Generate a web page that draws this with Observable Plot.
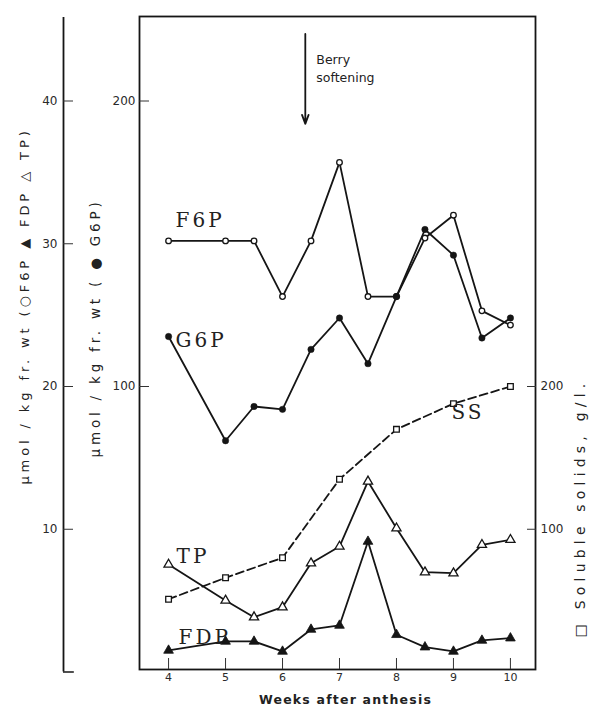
<!DOCTYPE html>
<html><head><meta charset="utf-8">
<script src="https://cdn.jsdelivr.net/npm/d3@7"></script>
<script src="https://cdn.jsdelivr.net/npm/@observablehq/plot@0.6"></script>
<style>
body{margin:0;background:#fff}
#chart{width:591px;height:710px;overflow:hidden}
</style>
</head><body><div id="chart"></div>
<script>
// ---- data ----
const weeks = [4, 5, 5.5, 6, 6.5, 7, 7.5, 8, 8.5, 9, 9.5, 10];
const f6p = [30.2, 30.2, 30.2, 26.3, 30.2, 35.7, 26.3, 26.3, 30.4, 32.0, 25.3, 24.3];   // µmol/kg (outer left axis)
const g6p = [117.5, 81, 93, 92, 113, 124, 108, 131.5, 155, 146, 117, 124];             // µmol/kg (inner left axis)
const tp  = [7.53, 5.01, 3.84, 4.54, 7.62, 8.79, 13.35, 10.07, 6.99, 6.92, 8.91, 9.26]; // µmol/kg (outer left axis)
const fdp = [1.51, 2.14, 2.14, 1.44, 2.98, 3.26, 9.14, 2.61, 1.74, 1.44, 2.21, 2.37];  // µmol/kg (outer left axis)
const ssWeeks = [4, 5, 6, 7, 8, 9, 10];
const ss = [51, 66, 80, 135, 170, 188, 200];                                           // g/L (right axis)
const xTicks = [4, 5, 6, 7, 8, 9, 10];
const outerTicks = [10, 20, 30, 40];
const g6pTicks = [100, 200];
const ssTicks = [100, 200];
const softeningWeek = 6.4;
const softeningSpan = [44.7, 38.4];

// ---- scales: all three vertical axes share one pixel mapping ----
const G6P_PER_UNIT = 5;   // 200 on inner axis = 40 on outer axis
const SS_PER_UNIT = 10;   // 200 g/L on right axis = 20 on outer axis
const X_DOMAIN = [3.49, 10.44];
const Y_DOMAIN = [0.175, 45.92];
const OUTER_DX = -76;
const ink = "#151515";

const series = (xs, ys, k = 1) => xs.map((x, i) => ({x, y: ys[i] / k}));
const F = series(weeks, f6p), G = series(weeks, g6p, G6P_PER_UNIT);
const T = series(weeks, tp), D = series(weeks, fdp), S = series(ssWeeks, ss, SS_PER_UNIT);

const labels = [
  {...F[0], text: "F6P", dx: 7, dy: -20},
  {...G[0], text: "G6P", dx: 7, dy: 4},
  {...T[0], text: "TP", dx: 8, dy: -8},
  {...D[0], text: "FDP", dx: 10, dy: -13},
  {...S[5], text: "SS", dx: -2, dy: 9}
];

const lineOpts = {x: "x", y: "y", stroke: ink, strokeWidth: 1.8};
const chart = Plot.plot({
  width: 591, height: 710,
  marginLeft: 139, marginRight: 56, marginTop: 16, marginBottom: 41,
  x: {domain: X_DOMAIN},
  y: {domain: Y_DOMAIN},
  style: {fontFamily: "DejaVu Sans", fontSize: "12px", color: "#2a2a2a", background: "#fff"},
  marks: [
    Plot.frame({stroke: ink, strokeWidth: 1.8}),
    // outer left axis (F6P, FDP, TP)
    Plot.ruleX([X_DOMAIN[0]], {y1: 0, y2: 45.85, dx: OUTER_DX, stroke: ink, strokeWidth: 1.8}),
    Plot.ruleY([0], {x1: X_DOMAIN[0], x2: X_DOMAIN[0] + 0.19, dx: OUTER_DX, stroke: ink, strokeWidth: 1.5}),
    Plot.axisY(outerTicks, {anchor: "left", dx: OUTER_DX, tickSize: -10, tickFormat: () => "", label: null, stroke: "#333"}),
    Plot.axisY(outerTicks, {anchor: "left", dx: OUTER_DX, tickSize: 0, tickPadding: 6, label: null}),
    // inner left axis (G6P)
    Plot.axisY(g6pTicks.map(t => t / G6P_PER_UNIT), {anchor: "left", tickSize: -10, tickFormat: () => "", label: null, stroke: "#333"}),
    Plot.axisY(g6pTicks.map(t => t / G6P_PER_UNIT), {anchor: "left", tickSize: 0, tickPadding: 4, tickFormat: d => Math.round(d * G6P_PER_UNIT), label: null}),
    // right axis (soluble solids)
    Plot.axisY(ssTicks.map(t => t / SS_PER_UNIT), {anchor: "right", tickSize: -9, tickFormat: () => "", label: null, stroke: "#333"}),
    Plot.axisY(ssTicks.map(t => t / SS_PER_UNIT), {anchor: "right", tickSize: 0, tickPadding: 5, tickFormat: d => Math.round(d * SS_PER_UNIT), label: null}),
    // x axis
    Plot.axisX(xTicks, {tickSize: -11, tickFormat: () => "", label: null, stroke: "#333"}),
    Plot.axisX(xTicks, {tickSize: 0, tickPadding: 4, label: null, fontSize: 11}),
    // series lines
    Plot.line(S, {...lineOpts, strokeDasharray: "8,4"}),
    Plot.line(F, lineOpts),
    Plot.line(G, lineOpts),
    Plot.line(T, lineOpts),
    Plot.line(D, lineOpts),
    // markers
    Plot.dot(S, {x: "x", y: "y", symbol: "square", r: 3.2, fill: "#fff", stroke: ink, strokeWidth: 1.3}),
    Plot.dot(F, {x: "x", y: "y", r: 2.8, fill: "#fff", stroke: ink, strokeWidth: 1.3}),
    Plot.dot(G, {x: "x", y: "y", r: 3.2, fill: ink, stroke: ink, strokeWidth: 0.5}),
    Plot.dot(T, {x: "x", y: "y", symbol: "triangle", r: 3.4, fill: "#fff", stroke: ink, strokeWidth: 1.3}),
    Plot.dot(D, {x: "x", y: "y", symbol: "triangle", r: 3.6, fill: ink, stroke: ink, strokeWidth: 0.8}),
    // series labels
    ...labels.map(l => Plot.text([l], {x: "x", y: "y", text: "text", dx: l.dx, dy: l.dy, textAnchor: "start",
      fontFamily: "DejaVu Serif", fontSize: 20, fill: "#222"})),
    // berry softening arrow
    Plot.arrow([softeningWeek], {x1: d => d, x2: d => d, y1: softeningSpan[0], y2: softeningSpan[1],
      stroke: ink, strokeWidth: 1.8, headLength: 8, headAngle: 40}),
    Plot.text([softeningWeek], {x: d => d, y: softeningSpan[0], text: () => "Berry\nsoftening",
      textAnchor: "start", lineAnchor: "top", dx: 11, dy: 17, fontSize: 12.5, lineHeight: 1.45, fill: "#222"}),
    // axis titles
    Plot.text(["Weeks after anthesis"], {frameAnchor: "bottom", text: d => d, textAnchor: "middle", dx: 8, dy: 34,
      fontWeight: "bold", fontSize: 12.5, fill: "#222"}),
    Plot.text(["μmol / kg fr. wt (○F6P ▲ FDP △ TP)"], {frameAnchor: "left", text: d => d, rotate: -90,
      textAnchor: "middle", dx: -115, dy: -37, fontSize: 13, fill: "#222"}),
    Plot.text(["μmol / kg fr. wt ( ● G6P)"], {frameAnchor: "left", text: d => d, rotate: -90,
      textAnchor: "middle", dx: -44, dy: -15, fontSize: 13.5, fill: "#222"}),
    Plot.text(["□ Soluble solids, g/l."], {frameAnchor: "right", text: d => d, rotate: -90,
      textAnchor: "middle", dx: 45, dy: 165, fontSize: 14, fill: "#222"})
  ]
});
document.getElementById("chart").appendChild(chart);
// widen letter spacing to match the scanned lettering
chart.querySelectorAll("text").forEach(t => {
  const s = t.textContent;
  if (s.startsWith("μmol / kg fr. wt (○")) t.setAttribute("letter-spacing", "3.9");
  else if (s.startsWith("μmol / kg fr. wt ( ●")) t.setAttribute("letter-spacing", "3.8");
  else if (s.startsWith("□ Soluble")) t.setAttribute("letter-spacing", "5.2");
  else if (s === "Weeks after anthesis") t.setAttribute("letter-spacing", "1.2");
  else if (["F6P", "G6P", "TP", "FDP", "SS"].includes(s)) t.setAttribute("letter-spacing", "3");
});
</script>
</body></html>
